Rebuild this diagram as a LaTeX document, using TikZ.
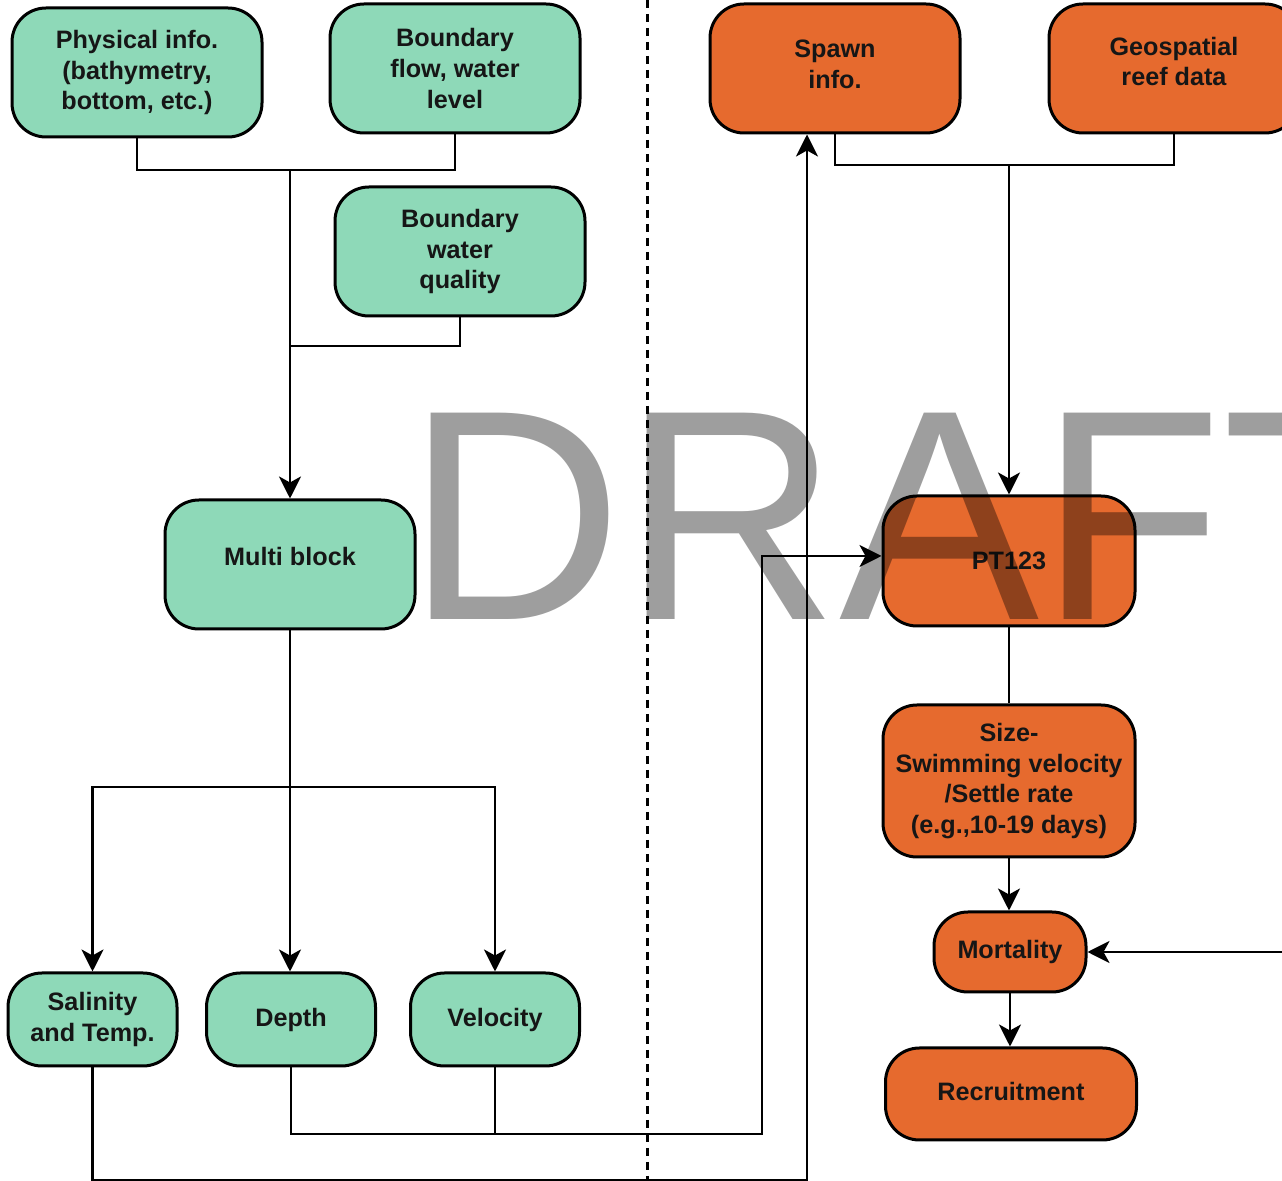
\documentclass[tikz,border=0pt]{standalone}
\usepackage{fontspec}
\setmainfont{Liberation Sans}
\usetikzlibrary{arrows.meta}
\definecolor{mint}{RGB}{142,217,184}
\definecolor{orng}{RGB}{230,106,46}
\definecolor{wm}{RGB}{158,158,158}
\definecolor{txt}{RGB}{22,22,22}
\begin{document}
\begin{tikzpicture}[x=0.5pt,y=-0.5pt,
  box/.style={draw=black, line width=1.5pt, rounded corners=17pt, align=center,
    font=\bfseries\fontsize{12.6}{15.3}\selectfont, text=txt, inner sep=0pt},
  gbox/.style={box, fill=mint},
  obox/.style={box, fill=orng},
  big/.style={minimum width=125pt, minimum height=64.5pt},
  small/.style={minimum width=84.5pt, minimum height=46.5pt},
  conn/.style={line width=1.4pt},
  arr/.style={conn, -{Stealth[length=11pt,width=11pt,inset=3pt]}}]
\useasboundingbox (0,0) rectangle (1282,1181);
\clip (0,0) rectangle (1282,1181);

% dashed divider
\coordinate (dtop) at (647,0);
\coordinate (dbot) at (647,1181);
\draw[line width=1.5pt, dash pattern=on 4pt off 3pt] (dtop) -- (dbot);

% left (green) boxes
\node[gbox, big] (phys) at (137,72.5) {Physical info.\\(bathymetry,\\bottom, etc.)};
\node[gbox, big] (bflow) at (455,68.5) {Boundary\\flow, water\\level};
\node[gbox, big] (bwq) at (460,251.5) {Boundary\\water\\quality};
\node[gbox, big, text depth=8pt] (multi) at (290,564.5) {Multi block};
\node[gbox, small] (sal) at (92.5,1019.5) {Salinity\\and Temp.};
\node[gbox, small] (depth) at (291,1019.5) {Depth};
\node[gbox, small] (vel) at (495,1019.5) {Velocity};

% right (orange) boxes
\node[obox, big, text depth=4pt] (spawn) at (835,68.5) {Spawn\\info.};
\node[obox, big, text depth=7pt] (geo) at (1174,68.5) {Geospatial\\reef data};
\node[obox, minimum width=126pt, minimum height=65pt] (pt) at (1009,561) {PT123};
\node[obox, minimum width=126pt, minimum height=76pt] (size) at (1009,781) {Size-\\Swimming velocity\\/Settle rate\\(e.g.,10-19 days)};
\node[obox, minimum width=76pt, minimum height=40pt] (mort) at (1010,952) {Mortality};
\node[obox, minimum width=125.5pt, minimum height=46pt, text depth=3pt] (recr) at (1011,1094) {Recruitment};

% connector junctions
\coordinate (j1) at (290,170);
\coordinate (j1b) at (290,346);
\coordinate (j2) at (290,787);
\coordinate (c1) at (762,1134);
\coordinate (c2) at (807,1180);
\coordinate (c3) at (1009,165);
\coordinate (c4) at (1282,952);

% left connectors
\draw[conn] (phys.south) |- (j1) -| (bflow.south);
\draw[conn] (bwq.south) |- (j1b);
\draw[arr] (j1) -- (multi.north);
\draw[arr] (multi.south) -- (multi.south |- depth.north);
\draw[arr] (j2) -| (sal.north);
\draw[arr] (j2) -| (vel.north);
\draw[arr] (depth.south) |- (c1) |- ([yshift=2.5pt]pt.west);
\draw[conn] (vel.south) -- (vel.south |- c1);
\draw[arr] (sal.south) |- (c2) -- (c2 |- spawn.south);

% right connectors
\draw[conn] (spawn.south) |- (c3) -| (geo.south);
\draw[arr] (c3) -- (pt.north);
\draw[conn] (pt.south) -- (size.north);
\draw[arr] (size.south) -- (size.south |- mort.north);
\draw[arr] (mort.south) -- (mort.south |- recr.north);
\draw[arr] (c4) -- (mort.east);

% watermark
\begin{scope}[blend mode=multiply]
\node[anchor=base west, inner sep=0pt, text=wm, font=\fontsize{150}{150}\selectfont] (wmk) at (406,620) {DRAFT};
\end{scope}
\end{tikzpicture}
\end{document}
